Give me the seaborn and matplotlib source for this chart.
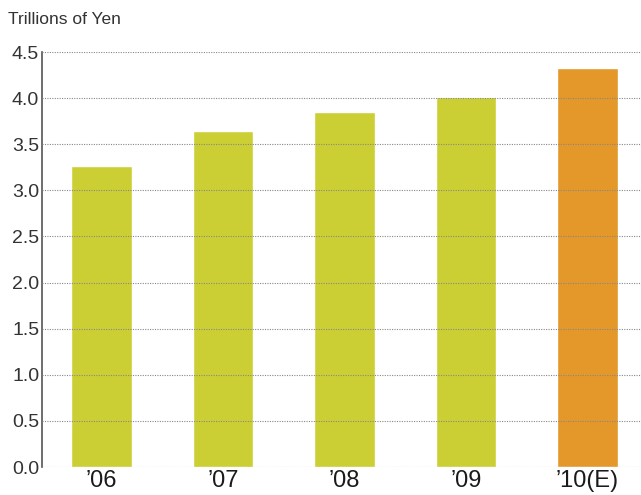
import matplotlib
matplotlib.use("Agg")
import numpy as np
import pandas as pd
import matplotlib.pyplot as plt
import seaborn as sns

# =====================================================
# Data
# =====================================================
years = ["’06", "’07", "’08", "’09", "’10(E)"]
values = [3.26, 3.64, 3.85, 4.01, 4.33]
kind = ["actual", "actual", "actual", "actual", "estimate"]
palette = {"actual": "#CCCF33", "estimate": "#E4982A"}
yticks = [0.0, 0.5, 1.0, 1.5, 2.0, 2.5, 3.0, 3.5, 4.0, 4.5]

df = pd.DataFrame({"year": years, "value": values, "kind": kind})

# =====================================================
# Plot
# =====================================================
sns.set_style("white")
plt.rcParams["font.family"] = ["Liberation Sans", "DejaVu Sans"]

fig = plt.figure(figsize=(6.41, 4.95), dpi=100)
ax = fig.add_axes([42 / 641, 28 / 495, 599 / 641, 415 / 495])

sns.barplot(data=df, x="year", y="value", hue="kind", palette=palette,
            width=0.5, dodge=False, legend=False, saturation=1, ax=ax, zorder=1)

ax.set_ylim(0, 4.5)
ax.set_xlim(-0.49, 4.44)
ax.set_yticks(yticks)
ax.set_yticklabels([f"{t:.1f}" for t in yticks], fontsize=14, color="#333333")
ax.tick_params(axis="x", labelsize=17, colors="#1a1a1a", length=0, pad=2)
ax.tick_params(axis="y", length=0, pad=2)

for t in yticks:
    ax.axhline(t, color="#888888", linestyle=(0, (1, 1.2)), linewidth=0.8, zorder=3)

for side in ["top", "right", "bottom"]:
    ax.spines[side].set_visible(False)
ax.spines["left"].set_color("#555555")
ax.spines["left"].set_linewidth(1.2)

ax.set_xlabel("")
ax.set_ylabel("")
fig.text(8 / 641, 1 - 20 / 495, "Trillions of Yen", fontsize=12.5, color="#333333", va="center")

fig.savefig("out.png", dpi=100)
